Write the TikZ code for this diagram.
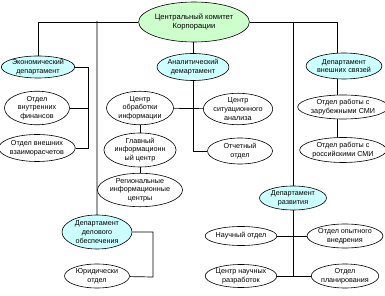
\documentclass[tikz,border=0pt]{standalone}
\usepackage{fontspec}
\setmainfont{Liberation Sans}
\usetikzlibrary{shapes.geometric,backgrounds}
\definecolor{DeptCyan}{HTML}{CCFFFF}
\definecolor{HeadGreen}{HTML}{CCFFCC}
\definecolor{LineGrey}{HTML}{A0A0A0}
\tikzset{
  unit/.style={ellipse,draw,line width=0.6pt,fill=white,inner sep=0pt,align=center,
    font=\fontsize{7.2}{8.6}\selectfont},
  dept/.style={unit,fill=DeptCyan},
  head/.style={unit,fill=HeadGreen,font=\fontsize{7.6}{9.4}\selectfont},
  sz/.style 2 args={minimum width=#1pt,minimum height=#2pt},
  link/.style={line width=0.7pt},
  greylink/.style={LineGrey,line width=2pt}
}

\begin{document}
\begin{tikzpicture}[x=1pt,y=-1pt,line join=miter]
  \useasboundingbox (0,0) rectangle (385,296);
  % head and departments
  \node[head,sz={106}{40}] (cc) at (194,22) {Центральный комитет\\Корпорации};
  \node[dept,sz={66}{22}] (econ) at (38,67) {Экономический\\департамент};
  \node[dept,sz={69}{27}] (anal) at (193,67) {Аналитический\\демартамент};
  \node[dept,sz={65}{26}] (ext) at (344,66) {Департамент\\внешних связей};
  \node[dept,sz={70}{34}] (delo) at (97,232) {Департамент\\делового\\обеспечения};
  \node[dept,sz={67}{24}] (razv) at (293,198) {Департамент\\развития};
  % units
  \node[unit,sz={65}{28}] (vnutr) at (37,108) {Отдел\\внутренних\\финансов};
  \node[unit,sz={72}{27}] (vzaim) at (37,148) {Отдел внешних\\взаиморасчетов};
  \node[unit,sz={67}{26}] (cobr) at (140,108) {Центр\\обработки\\информации};
  \node[unit,sz={58}{28}] (csit) at (238,109) {Центр\\ситуационного\\анализа};
  \node[unit,sz={65}{26}] (otch) at (240,151) {Отчетный\\отдел};
  \node[unit,sz={66}{25}] (glav) at (140,150) {Главный\\информационн\\ый центр};
  \node[unit,sz={74}{30}] (reg) at (140,190) {Региональные\\информационные\\центры};
  \node[unit,sz={65}{24}] (yur) at (97,276) {Юридически\\отдел};
  \node[unit,sz={73}{24}] (zarub) at (343,107) {Отдел работы с\\зарубежными СМИ};
  \node[unit,sz={75}{25}] (ros) at (343,150) {Отдел работы с\\российскими СМИ};
  \node[unit,sz={63}{19}] (nauch) at (241,236) {Научный отдел};
  \node[unit,sz={66}{24}] (opyt) at (345,236) {Отдел опытного\\внедрения};
  \node[unit,sz={63}{23}] (cnr) at (241,276) {Центр научных\\разработок};
  \node[unit,sz={66}{24}] (plan) at (345,276) {Отдел\\планирования};
  % turning points
  \coordinate (extv) at (337,66);
  \coordinate (ev) at (88,148);
  \coordinate (dv) at (153,277);
  \begin{scope}[on background layer]
    \draw[greylink] (delo) -- ([yshift=1]delo |- cc);
    \draw[link] (econ) |- (cc) -| (extv);
    \draw[link] (anal) -- (anal |- cc);
    \draw[link] (razv) -- (razv |- cc);
    \draw[link] (econ) -| (ev) -- (vzaim);
    \draw[link] (vnutr) -- (vnutr -| ev);
    \draw[link] (delo) -| (dv) -- (yur);
    \draw[link] (cobr) -- (csit);
    \draw[link] (cobr) -- (glav) -- (reg);
    \draw[link] (anal) |- (otch);
    \draw[link] (extv) -- (extv |- ros);
    \draw[link] (razv) -- (razv |- cnr);
    \draw[link] (nauch) -- (opyt);
    \draw[link] (cnr) -- (plan);
  \end{scope}
\end{tikzpicture}
\end{document}
